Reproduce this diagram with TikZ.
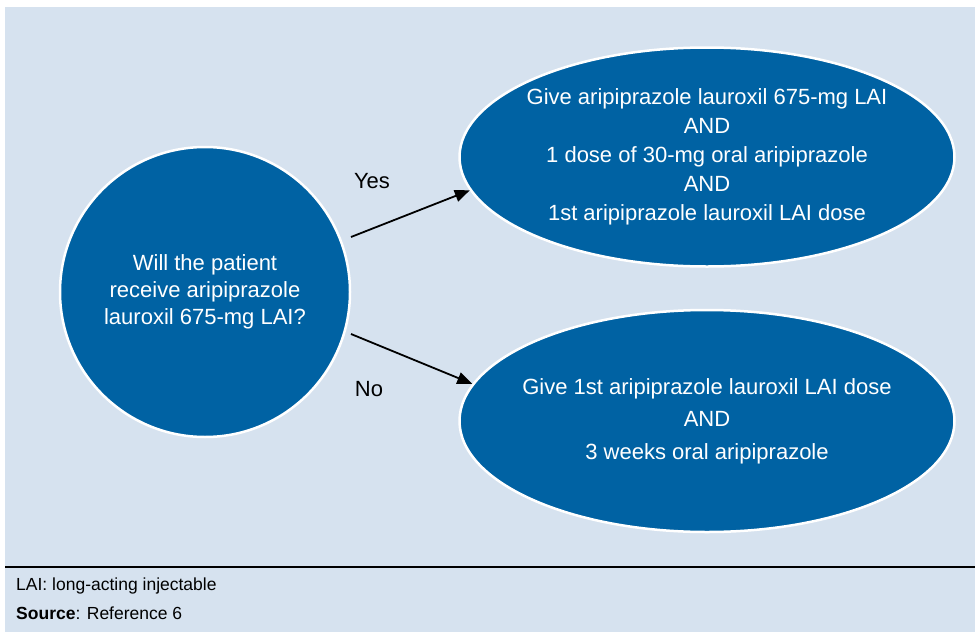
\documentclass[tikz,border=0pt]{standalone}
\usepackage{fontspec}
\setmainfont{Liberation Sans}
\usetikzlibrary{arrows.meta,shapes.geometric}
\definecolor{panel}{HTML}{D6E2EF}
\definecolor{dose}{HTML}{0062A3}

\begin{document}
\begin{tikzpicture}[x=1pt,y=-1pt,
  bubble/.style={fill=dose,draw=white,line width=2.5pt,text=white,align=center,inner sep=0pt},
  flow/.style={-{Triangle[length=15pt,width=12pt]},line width=1.8pt},
  txt/.style={font=\fontsize{22}{28}\selectfont}]
  \useasboundingbox (0,0) rectangle (975,632);
  \fill[panel] (5,7) rectangle (975,632);
  \draw[line width=1.2pt] (5,567)--(975,567);
  % question and the two answers
  \node[bubble,circle,minimum size=290pt,font=\fontsize{22}{27}\selectfont] (q) at (205,292)
    {Will the patient\\receive aripiprazole\\lauroxil 675-mg LAI?};
  \node[bubble,ellipse,inner xsep=-12pt,minimum width=495pt,minimum height=219pt,font=\fontsize{22}{29}\selectfont] (yes) at (707,157)
    {Give aripiprazole lauroxil 675-mg LAI\\AND\\1 dose of 30-mg oral aripiprazole\\AND\\1st aripiprazole lauroxil LAI dose};
  \node[bubble,ellipse,inner xsep=-16pt,minimum width=495pt,minimum height=222pt,font=\fontsize{22}{32.5}\selectfont] (no) at (707,421)
    {Give 1st aripiprazole lauroxil LAI dose\\AND\\3 weeks oral aripiprazole};
  \coordinate (ys) at (351,237);
  \coordinate (ns) at (351,334);
  \draw[flow] (ys)--(yes.188);
  \draw[flow] (ns)--(no.171);
  \node[txt] (ylab) at (372,181) {Yes};
  \node[txt] (nlab) at (369,389) {No};
  % footnote
  \node[anchor=west,inner sep=0pt,font=\fontsize{17.5}{20}\selectfont] (abbr) at (16,586) {LAI: long-acting injectable};
  \node[anchor=west,inner sep=0pt,font=\fontsize{17.5}{20}\selectfont] (src) at (16,613) {\textbf{Source}: Reference 6};
\end{tikzpicture}
\end{document}
